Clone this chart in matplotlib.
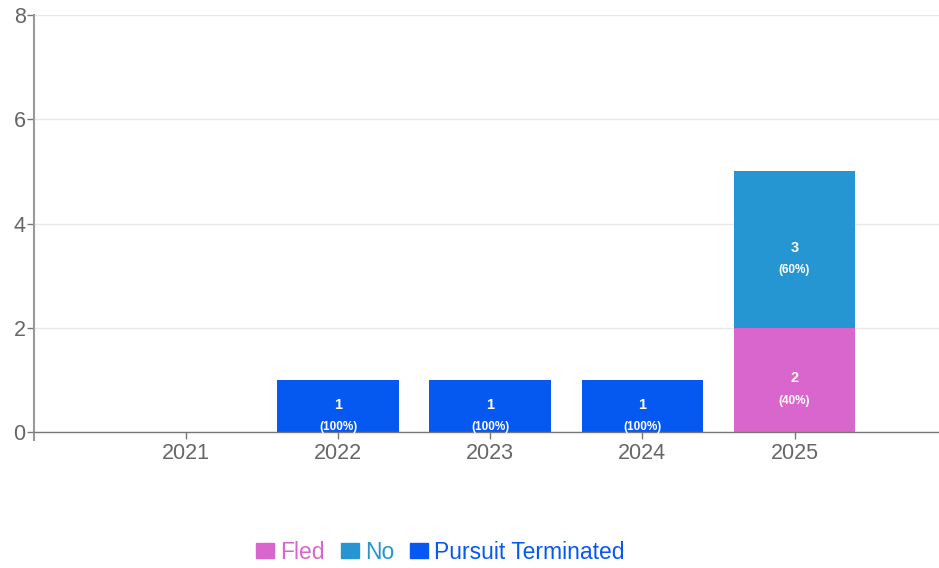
import numpy as np
import matplotlib.pyplot as plt
from matplotlib.patches import Patch

years = ["2021", "2022", "2023", "2024", "2025"]
fled = [0, 0, 0, 0, 2]
no = [0, 0, 0, 0, 3]
terminated = [0, 1, 1, 1, 0]

series = [("Fled", fled, "#d966cc"),
          ("No", no, "#2596d1"),
          ("Pursuit Terminated", terminated, "#0559f0")]

plt.rcParams['font.family'] = ['Liberation Sans', 'DejaVu Sans']

fig = plt.figure(figsize=(9.39, 5.68), dpi=100)
ax = fig.add_axes([34/939, 136/568, 905/939, 417/568])

x = np.arange(len(years))
totals = np.sum([s[1] for s in series], axis=0)
bottom = np.zeros(len(years))
for name, vals, col in series:
    vals = np.array(vals, dtype=float)
    ax.bar(x, vals, 0.8, bottom=bottom, color=col, zorder=2)
    for i, v in enumerate(vals):
        if v > 0:
            yc = bottom[i] + v / 2
            ax.annotate(f"{int(v)}", (x[i], yc), xytext=(0, 1), textcoords='offset points',
                        ha='center', va='center', color='white', fontsize=10.5, fontweight='bold')
            ax.annotate(f"({v / totals[i] * 100:.0f}%)", (x[i], yc), xytext=(0, -15),
                        textcoords='offset points', ha='center', va='center',
                        color='white', fontsize=8.5, fontweight='bold')
    bottom += vals

ax.set_xlim(-1.0, 4.95)
ax.set_ylim(0, 8)
ax.set_xticks(x)
ax.set_xticklabels(years)
ax.set_yticks([0, 2, 4, 6, 8])
ax.yaxis.grid(True, color='#e8e8e8', linewidth=1, zorder=0)
ax.set_axisbelow(True)

for s in ['top', 'right']:
    ax.spines[s].set_visible(False)
ax.spines['left'].set_color('#999999')
ax.spines['left'].set_linewidth(1.5)
ax.spines['left'].set_bounds(-0.16, 8)
ax.spines['bottom'].set_color('#777777')
ax.spines['bottom'].set_linewidth(1)
ax.tick_params(axis='both', colors='#777777', labelcolor='#666666', labelsize=15.5,
               length=5, width=1)
ax.tick_params(axis='x', pad=3)
ax.tick_params(axis='y', pad=1)

handles = [Patch(color=c, label=n) for n, _, c in series]
leg = fig.legend(handles=handles, loc='center', bbox_to_anchor=(0.469, 0.028), ncol=3,
                 frameon=False, fontsize=16.5, handlelength=0.8, handleheight=0.65,
                 handletextpad=0.25, columnspacing=0.7)
for t, (_, _, c) in zip(leg.get_texts(), series):
    t.set_color(c)

fig.savefig("out.png", dpi=100)
